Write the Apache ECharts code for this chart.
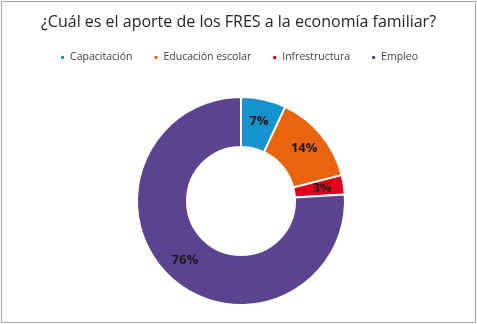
<!DOCTYPE html>
<html><head><meta charset="utf-8">
<script src="https://cdn.jsdelivr.net/npm/echarts@6/dist/echarts.min.js"></script>
<style>html,body{margin:0;padding:0;background:#fff}#c{width:477px;height:324px}</style>
</head><body><div id="c"></div>
<script>
const categories = ['Capacitación', 'Educación escolar', 'Infrestructura', 'Empleo'];
const values = [7, 14, 3, 76];
const colors = ['#1692CE', '#E8640F', '#E0001B', '#5B448F'];
const titleText = '¿Cuál es el aporte de los FRES a la economía familiar?';

const chart = echarts.init(document.getElementById('c'), null, {renderer: 'canvas'});
chart.setOption({
  animation: false,
  color: colors,
  graphic: [{type: 'rect', shape: {x: 1.5, y: 1.5, width: 474, height: 321}, style: {fill: 'none', stroke: '#A6A6A6', lineWidth: 1}}],
  title: {text: titleText, left: 'center', top: 9, textStyle: {fontFamily: 'Open Sans', fontSize: 16, fontWeight: 'normal', color: '#262626'}},
  legend: {top: 47, left: 'center', itemWidth: 5, itemHeight: 5, itemGap: 20, icon: 'rect',
    textStyle: {fontFamily: 'Open Sans', fontSize: 10.5, color: '#404040'}, data: categories},
  series: [{
    type: 'pie', radius: [54, 104], center: [241, 201], startAngle: 90, clockwise: true,
    itemStyle: {borderColor: '#fff', borderWidth: 2},
    label: {position: 'inner', formatter: '{d}%', fontFamily: 'Open Sans', fontSize: 13, fontWeight: 'bold', color: '#1a1a1a'},
    labelLine: {show: false},
    data: categories.map((n, i) => ({name: n, value: values[i]}))
  }]
});
</script></body></html>
